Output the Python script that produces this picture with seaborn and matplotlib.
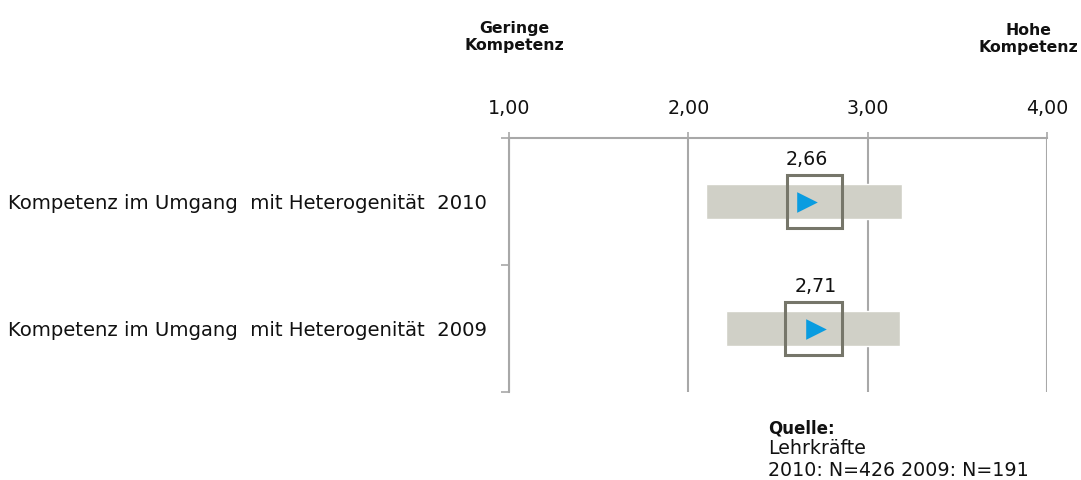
import numpy as np
import seaborn as sns
import matplotlib.pyplot as plt

sns.set_theme(style="white")
plt.rcParams['font.family'] = ['DejaVu Sans']

# data
labels = ["Kompetenz im Umgang  mit Heterogenität  2010",
          "Kompetenz im Umgang  mit Heterogenität  2009"]
means = [2.66, 2.71]
range_lo = [2.10, 2.21]
range_hi = [3.19, 3.18]
box_lo = [2.55, 2.54]
box_hi = [2.855, 2.855]
ticks = [1, 2, 3, 4]
tick_labels = ["1,00", "2,00", "3,00", "4,00"]

bar_col = "#D0D0C7"
box_col = "#76766A"
mark_col = "#0A9CE0"
grid_col = "#A8A8A8"
fs = 13.7

fig = plt.figure(figsize=(10.81, 4.8), dpi=100)
ax = fig.add_axes([0.4709, 0.1833, 0.4977, 0.5292])

ypos = np.arange(len(labels))

# grey range bars
ax.barh(ypos, np.array(range_hi) - np.array(range_lo), left=range_lo,
        height=0.28, color=bar_col, zorder=2)
# outlined boxes
ax.barh(ypos, np.array(box_hi) - np.array(box_lo), left=box_lo,
        height=0.42, facecolor="none", edgecolor=box_col, linewidth=2.2, zorder=3)
# means
sns.scatterplot(x=means, y=ypos, marker=">", s=220, color=mark_col,
                edgecolor=mark_col, linewidth=0, ax=ax, zorder=4)
for y, m in zip(ypos, means):
    ax.text(m, y - 0.33, f"{m:.2f}".replace(".", ","), ha="center", va="center",
            fontsize=fs, color="#111111")

ax.set_xlim(1, 4)
ax.set_ylim(len(labels) - 0.5, -0.5)

# x axis on top
ax.xaxis.tick_top()
ax.set_xticks(ticks)
ax.set_xticklabels(tick_labels, fontsize=fs, color="#111111")
ax.tick_params(axis="x", direction="out", length=4.5, width=1.2, color=grid_col, pad=10,
               top=True, bottom=False)
ax.grid(axis="x", color=grid_col, linewidth=1.5, zorder=0)
ax.grid(axis="y", visible=False)

# y ticks at category borders, labels in between
ax.set_yticks(np.arange(-0.5, len(labels), 1.0))
ax.set_yticklabels([])
ax.set_yticks(ypos, minor=True)
ax.set_yticklabels(labels, minor=True, fontsize=14.1, color="#111111")
ax.tick_params(axis="y", which="major", direction="out", length=6, width=1.2, color=grid_col, left=True)
ax.tick_params(axis="y", which="minor", length=0, pad=16)

for s in ["right", "bottom"]:
    ax.spines[s].set_visible(False)
for s in ["top", "left"]:
    ax.spines[s].set_color(grid_col)
    ax.spines[s].set_linewidth(1.5)

fig.text(514 / 1081, 1 - 37 / 480, "Geringe\nKompetenz", ha="center", va="center",
         fontsize=11.3, fontweight="bold", linespacing=1.15, color="#111111")
fig.text(1028 / 1081, 1 - 39 / 480, "Hohe\nKompetenz", ha="center", va="center",
         fontsize=11.3, fontweight="bold", linespacing=1.15, color="#111111")

fig.text(768 / 1081, 1 - 428 / 480, "Quelle:", ha="left", va="center",
         fontsize=12, fontweight="bold", color="#111111")
fig.text(768 / 1081, 1 - 449 / 480, "Lehrkräfte", ha="left", va="center",
         fontsize=fs, color="#111111")
fig.text(768 / 1081, 1 - 470 / 480, "2010: N=426 2009: N=191", ha="left", va="center",
         fontsize=fs, color="#111111")

fig.savefig("out.png", dpi=100)
